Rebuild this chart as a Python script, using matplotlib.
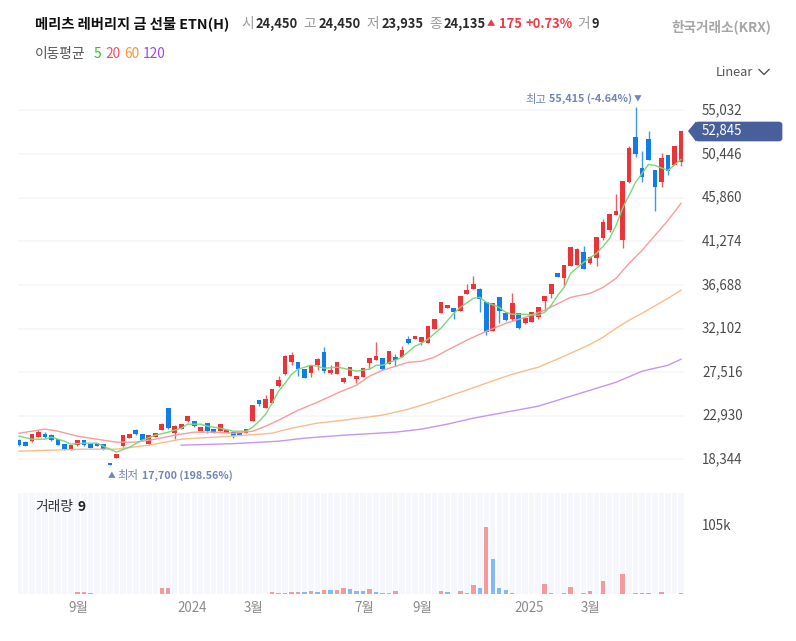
import matplotlib
matplotlib.use("Agg")
import matplotlib.pyplot as plt
from matplotlib.patches import Polygon, FancyBboxPatch
from matplotlib.lines import Line2D
from matplotlib.transforms import ScaledTranslation

plt.rcParams['font.family'] = ['Noto Sans CJK KR', 'DejaVu Sans']

opens = [20360,20150,20250,20670,20990,20880,20460,19940,19310,19830,20360,19940,20040,19940,17950,18470,19730,20570,21410,20990,19940,20670,21410,23720,21090,21520,
         22350,22350,21300,22150,21520,21300,21090,21200,21200,21090,22350,24560,23720,24250,26030,27290,28550,28550,27820,27400,28240,29610,27400,27290,26450,27080,
         26770,26980,28450,28770,28980,28340,29080,29080,30970,30970,30660,30550,32020,33700,34230,34230,33910,35700,36220,36220,34860,31810,35380,33700,33070,33700,
         32650,32760,33280,34960,35700,37910,37380,38640,38750,40110,38960,39480,41580,42420,44000,41370,47470,52200,48940,51990,48730,47470,50300,49250,49570]
highs = [20460,20250,20990,21410,21200,20990,20460,19940,19830,20360,20360,19940,20040,19940,17950,18890,20880,20990,21520,20990,20880,21090,22150,23720,21940,22040,
         22880,22350,21720,22150,21520,22040,21410,21200,21200,21520,24040,24560,25090,25720,27080,29290,29610,28550,27820,28130,28980,30130,28240,28550,26980,28030,
         27080,27920,28980,30660,28980,29710,29400,30230,31290,31290,31180,32340,33070,34860,34540,34230,35490,36750,37590,36330,34860,34750,35380,33700,35810,33700,
         33180,33810,34330,35490,36750,37910,38750,40640,40530,40740,39690,41690,43580,44110,46210,47570,51350,55415,50720,52830,48730,50510,50300,51350,52845]
lows = [19730,19730,20150,20670,20570,20250,19830,19310,19310,19730,19730,19520,19730,19310,17700,18470,19620,20570,20880,20250,19830,20670,21410,21520,20460,21520,
        22250,21720,21300,21090,21090,21300,21090,20570,20880,21090,22350,23930,23720,24250,25930,27190,28240,27080,26870,26980,27710,27400,27290,27290,26350,27080,
        26350,26980,27820,28770,27710,28340,28130,29080,30450,30970,30340,30550,32020,33700,34230,33070,33910,35700,36220,33810,31390,31810,32650,32860,32860,32020,
        32550,32760,33070,33910,35280,37490,36540,38640,38750,38330,38850,38640,41370,42210,44000,40530,47360,50090,47470,49780,44420,46940,48200,49250,49150]
closes = [19830,19730,20990,21200,20670,20360,19830,19410,19830,20360,19830,19520,19730,19410,17720,18890,20880,20990,20990,20360,20880,21090,22040,21620,21830,22040,
          22880,21830,21720,21300,21090,22040,21410,20780,20880,21520,24040,24140,24670,25720,26660,29190,29290,27820,26870,28130,28870,27610,27710,28550,26870,28030,
          27080,27920,28980,29190,27820,29710,28770,29820,30550,31290,31180,32340,33070,34860,34540,33810,35490,36120,36750,35170,31710,34750,33910,32970,34750,32130,
          33180,33810,34330,35490,36750,37490,38750,40640,40430,38330,39590,41690,43260,44110,44420,47570,51040,50410,47990,49780,46940,49990,48620,51350,52845]

ma5_idx = [0,2,4,5,7,8,10,12,14,15,17,19,21,23,25,26,28,29,31,33,35,36,37,38,39,40,41,42,43,45,46,47,49,50,52,54,55,56,58,59,61,62,63,65,67,68,70,71,72,74,75,76,78,80,81,82,83,84,85,87,89,90,91,92,93,94,95,96,97,98,100,102]
ma5_val = [20780,20460,20460,20670,20250,19940,20040,20040,19410,19100,19620,20360,20880,21200,21620,22040,22040,21830,21620,21300,21300,21720,22350,23090,24250,25510,26350,27290,27820,28240,28130,27920,28030,27920,27610,27820,28240,28240,28770,29080,30230,30550,30970,32130,33700,34330,35280,35380,34860,34330,33810,33600,33600,33490,33810,34540,35590,36430,37910,39060,40010,40740,41580,42950,44740,46100,47470,48410,49360,49250,48730,49880]
ma20_idx = [0,2,4,6,9,12,15,18,21,24,27,30,33,36,38,40,43,46,49,52,54,56,58,60,62,64,66,69,72,75,78,81,85,88,90,92,94,96,98,100,102]
ma20_val = [21090,21300,21520,21300,20780,20460,20150,20150,20460,20880,21200,21200,21090,21300,21830,22460,23510,24350,25300,26140,27080,27710,28130,28550,28660,29080,29820,30870,31810,32650,33280,34020,35380,35800,36430,37380,38960,40320,41900,43470,45260]
ma60_idx = [0,5,10,15,20,25,30,35,39,42,46,50,56,60,64,68,72,76,80,84,88,90,92,94,96,100,102]
ma60_val = [19200,19310,19410,19410,19830,20460,20670,20880,21090,21620,22150,22460,22990,23620,24460,25400,26350,27290,28030,29190,30440,31180,32130,32970,33700,35280,36120]
ma120_idx = [25,33,40,44,50,58,62,66,70,75,80,84,88,92,96,100,102]
ma120_val = [19830,19990,20250,20570,20880,21200,21520,22040,22670,23300,23930,24770,25610,26450,27610,28240,28870]

vol_idx = [9,10,11,22,23,39,40,41,42,43,44,45,46,47,48,49,50,51,52,53,54,55,56,57,58,65,66,68,69,70,71,72,73,74,75,76,81,82,84,85,87,88,90,93,95,96,97,99,102]
vol_val = [3000,3000,1000,10000,10000,3000,1000,1000,3000,3000,3000,4500,3000,6000,6000,6000,9000,8000,4500,4500,7500,3000,1000,1000,4500,4500,3000,4500,1000,13500,10000,105000,54000,10000,6000,1000,15000,1000,1000,11000,1000,4500,20000,31000,1000,1000,1000,3000,1000]
vol_up = [1,1,0,1,1,1,0,0,1,1,0,1,0,1,0,1,1,0,0,0,1,0,0,1,1,1,0,1,0,1,0,1,0,0,0,0,1,0,1,1,1,1,1,1,1,0,0,1,1]

price_ticks = [18344,22930,27516,32102,36688,41274,45860,50446,55032]
price_labels = ['18,344','22,930','27,516','32,102','36,688','41,274','45,860','50,446','55,032']
date_ticks = [9.1,26.7,36.2,53.2,62.1,78.6,88.0]
date_labels = ['9월','2024','3월','7월','9월','2025','3월']

W, H = 796, 641
RED, BLUE = '#ec3338', '#0f7ee9'
fig = plt.figure(figsize=(W/100, H/100), dpi=100, facecolor='white')

def rect(l, t, r, b):
    return [l/W, 1-b/H, (r-l)/W, (b-t)/H]

def ft(x, y, s, **kw):
    kw.setdefault('va', 'center')
    kw.setdefault('ha', 'left')
    return fig.text(x/W, 1-y/H, s, **kw)

def p2i(x):
    return (x-19.0)/6.49

def lift(axis_labels, px):
    for lb in axis_labels:
        lb.set_transform(lb.get_transform() + ScaledTranslation(0, px/100, fig.dpi_scale_trans))

# main price panel
ax = fig.add_axes(rect(18, 85, 684, 490))
ax.set_xlim(p2i(18), p2i(684))
ax.set_ylim(55032-(490-110.5)*105.18, 55032-(85-110.5)*105.18)
for s in ax.spines.values():
    s.set_visible(False)
ax.yaxis.tick_right()
ax.set_yticks(price_ticks)
ax.set_yticklabels(price_labels)
ax.set_xticks([])
ax.tick_params(axis='y', length=0, pad=13, labelsize=9.6, labelcolor='#4a4a4a')
ax.grid(axis='y', color='#f6f6f6', lw=1.2)
ax.set_axisbelow(True)
lift(ax.get_yticklabels(), 1.6)

idx = list(range(len(opens)))
body_b = [min(o, c) for o, c in zip(opens, closes)]
body_h = [abs(o-c) for o, c in zip(opens, closes)]
cols = [RED if c >= o else BLUE for o, c in zip(opens, closes)]
ax.vlines(idx, lows, highs, colors=cols, lw=1.0, alpha=0.8, zorder=2)
ax.bar(idx, body_h, bottom=body_b, width=0.72, color=cols, lw=0, zorder=2.5)

ax.plot(ma120_idx, ma120_val, color='#c596f2', lw=1.0, zorder=3)
ax.plot(ma60_idx, ma60_val, color='#f9bd8c', lw=1.0, zorder=3)
ax.plot(ma20_idx, ma20_val, color='#f99c9c', lw=1.0, zorder=3)
ax.plot(ma5_idx, ma5_val, color='#7ad87a', lw=1.0, zorder=3)

# volume panel
vx = fig.add_axes(rect(18, 493, 684, 594))
vx.set_xlim(p2i(18), p2i(684))
vtop = 105000*101/67.5
vx.set_ylim(0, vtop)
for s in vx.spines.values():
    s.set_visible(False)
vx.bar(idx, [vtop]*len(idx), width=0.84, color='#f5f7fc', lw=0, zorder=1)
vcols = ['#f49a9c' if u else '#80baf8' for u in vol_up]
vx.bar(vol_idx, vol_val, width=0.68, color=vcols, lw=0, zorder=2)
vx.yaxis.tick_right()
vx.set_yticks([105000])
vx.set_yticklabels(['105k'])
vx.tick_params(axis='y', length=0, pad=13, labelsize=9.6, labelcolor='#4a4a4a')
vx.set_xticks(date_ticks)
vx.set_xticklabels(date_labels)
vx.tick_params(axis='x', length=0, pad=5, labelsize=9.6, labelcolor='#8a8a8a')
lift(vx.get_yticklabels(), 1.6)

# header
ft(35, 24, '메리츠 레버리지 금 선물 ETN(H)', fontsize=10.3, fontweight='bold', color='#111111')
GR, DK = '#9a9a9a', '#2a2a2a'
for x, s in [(241, '시'), (303, '고'), (366, '저'), (429, '종'), (577, '거')]:
    ft(x, 24, s, fontsize=9.9, color=GR)
for x, s in [(256, '24,450'), (319, '24,450'), (382, '23,935'), (444, '24,135'), (592, '9')]:
    ft(x, 24, s, fontsize=9.3, fontweight='bold', color=DK)
ft(487, 24, '▲', fontsize=6.0, color='#f03a44')
ft(499, 24, '175', fontsize=9.3, fontweight='bold', color='#f03a44')
ft(526, 24, '+0.73%', fontsize=9.3, fontweight='bold', color='#f03a44')
ft(771, 27, '한국거래소(KRX)', ha='right', fontsize=9.8, fontweight='bold', color='#a6a6a6')

ft(35, 54, '이동평균', fontsize=9.9, color='#555555')
ft(94, 54, '5', fontsize=9.9, color='#22c32e')
ft(105, 54, '20', fontsize=9.9, color='#fb4a5e')
ft(124, 54, '60', fontsize=9.9, color='#f9953a')
ft(143, 54, '120', fontsize=9.9, color='#9a46f5')

ft(716, 72, 'Linear', fontsize=9.2, color='#555555')
fig.add_artist(Line2D([759/W, 764/W, 769/W], [1-69.5/H, 1-74.5/H, 1-69.5/H], color='#555555', lw=1.0))

# high / low annotations
NV = '#7285b8'
ft(525, 99, '최고', fontsize=8.2, color=NV)
ft(549, 99, '55,415 (-4.64%)', fontsize=7.8, fontweight='bold', color=NV)
ft(634, 99, '▼', fontsize=5.6, color=NV)
ft(108, 476, '▲', fontsize=5.6, color=NV)
ft(117, 476, '최저', fontsize=8.2, color=NV)
ft(142, 476, '17,700 (198.56%)', fontsize=7.7, fontweight='bold', color=NV)

# last price tag
TAG = '#475f9a'
fig.add_artist(Polygon([(688/W, 1-131/H), (696/W, 1-121.5/H), (696/W, 1-141.5/H)], closed=True,
                       transform=fig.transFigure, color=TAG, lw=0))
fig.add_artist(FancyBboxPatch((695/W, 1-141/H), 87/W, 19/H, boxstyle='round,pad=0,rounding_size=0.004',
                              transform=fig.transFigure, facecolor=TAG, edgecolor=TAG, lw=0.5, mutation_aspect=1))
ft(702, 130.5, '52,845', fontsize=9.6, color='white')

ft(35, 507, '거래량', fontsize=9.9, color='#333333')
ft(78, 507, '9', fontsize=9.9, fontweight='bold', color='#222222')

fig.savefig('out.png', dpi=100, facecolor='white')
